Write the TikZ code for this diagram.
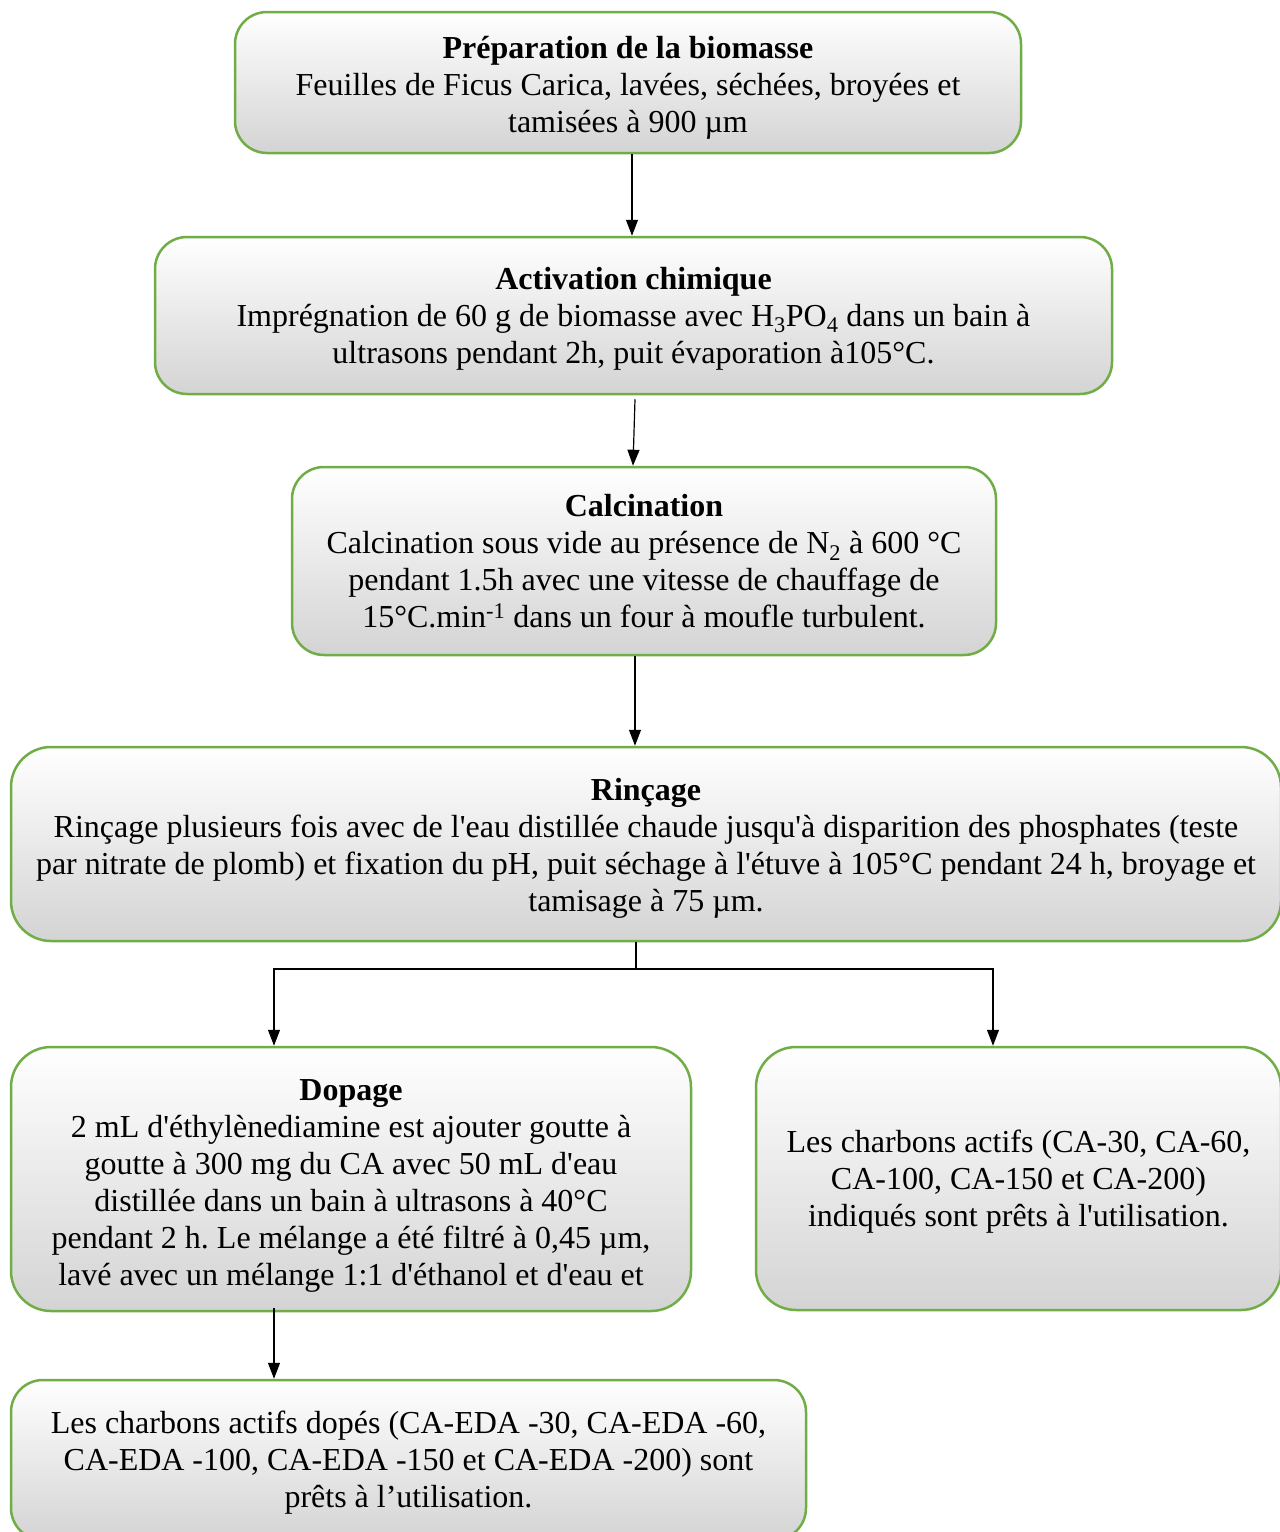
\documentclass[tikz,border=0pt]{standalone}
\usepackage{fontspec}
\newfontfamily\lsf{Liberation Serif}
\usetikzlibrary{arrows.meta}
\definecolor{boxgreen}{HTML}{70AD47}
\frenchspacing
\begin{document}
\begin{tikzpicture}[x=1pt,y=-1pt,
  box/.style={draw=boxgreen, line width=2.5pt, rounded corners=32pt,
    top color=white, middle color=black!3, bottom color=black!17,
    inner sep=0pt},
  txt/.style={align=center, inner sep=0pt,
    font=\lsf\fontsize{32}{37}\selectfont},
  conn/.style={line width=1.2pt, -{Triangle[length=16pt,width=12pt]}},
  plainline/.style={line width=1.2pt}]
\clip (0,0) rectangle (1280,1532);
\node[box, minimum width=786pt, minimum height=141pt] (b1) at (628,82.5) {};
\node[txt] (t1) at ([yshift=-5.5pt]b1.center)
  {\textbf{Préparation de la biomasse}\\Feuilles de Ficus Carica, lavées, séchées, broyées et\\tamisées à 900 µm};
\node[box, minimum width=957pt, minimum height=157pt] (b2) at (633.5,315.5) {};
\node[txt] (t2) at ([yshift=-3.5pt]b2.center)
  {\textbf{Activation chimique}\\Imprégnation de 60 g de biomasse avec H\textsubscript{3}PO\textsubscript{4} dans un bain à\\ultrasons pendant 2h, puit évaporation à105°C.};
\node[box, minimum width=704pt, minimum height=188pt] (b3) at (644,561) {};
\node[txt] (t3) at ([yshift=-0.5pt]b3.center)
  {\textbf{Calcination}\\Calcination sous vide au présence de N\textsubscript{2} à 600 °C\\pendant 1.5h avec une vitesse de chauffage de\\15°C.min\textsuperscript{-1} dans un four à moufle turbulent.};
\node[box, rounded corners=40pt, minimum width=1270pt, minimum height=194pt] (b4) at (646,844) {};
\node[txt] (t4) at ([yshift=-4pt]b4.center)
  {\textbf{Rinçage}\\Rinçage plusieurs fois avec de l'eau distillée chaude jusqu'à disparition des phosphates (teste\\par nitrate de plomb) et fixation du pH, puit séchage à l'étuve à 105°C pendant 24 h, broyage et\\tamisage à 75 µm.};
\node[box, rounded corners=40pt, minimum width=680pt, minimum height=264pt] (b5) at (351,1179) {};
\node[txt] (t5) at ([yshift=-7pt]b5.center)
  {\textbf{Dopage}\\2 mL d'éthylènediamine est ajouter goutte à\\goutte à 300 mg du CA avec 50 mL d'eau\\distillée dans un bain à ultrasons à 40°C\\pendant 2 h. Le mélange a été filtré à 0,45 µm,\\lavé avec un mélange 1:1 d'éthanol et d'eau et};
\node[box, rounded corners=40pt, minimum width=525pt, minimum height=263pt] (b6) at (1018.5,1178.5) {};
\node[txt] (t6) at ([yshift=-3.5pt]b6.center)
  {Les charbons actifs (CA-30, CA-60,\\CA-100, CA-150 et CA-200)\\indiqués sont prêts à l'utilisation.};
\node[box, minimum width=795pt, minimum height=160pt] (b7) at (408.5,1460) {};
\node[txt] (t7) at ([yshift=-3pt]b7.center)
  {Les charbons actifs dopés (CA-EDA -30, CA-EDA -60,\\CA-EDA -100, CA-EDA -150 et CA-EDA -200) sont\\prêts à l’utilisation.};
\draw[conn] ([xshift=4pt]b1.south) -- ([xshift=-1.5pt]b2.north);
\draw[conn] ([xshift=1.5pt,yshift=-4pt]b2.south) -- ([xshift=-11pt]b3.north);
\draw[conn] ([xshift=-9pt]b3.south) -- ([xshift=-11pt]b4.north);
\coordinate (split) at (636,969);
\draw[plainline] ([xshift=-10pt]b4.south) -- (split);
\draw[conn] (split) -| ([xshift=-77pt]b5.north);
\draw[conn] (split) -| ([xshift=-25.5pt]b6.north);
\draw[conn] ([xshift=-77pt,yshift=4pt]b5.south) -- ([xshift=-134.5pt]b7.north);
\end{tikzpicture}
\end{document}
